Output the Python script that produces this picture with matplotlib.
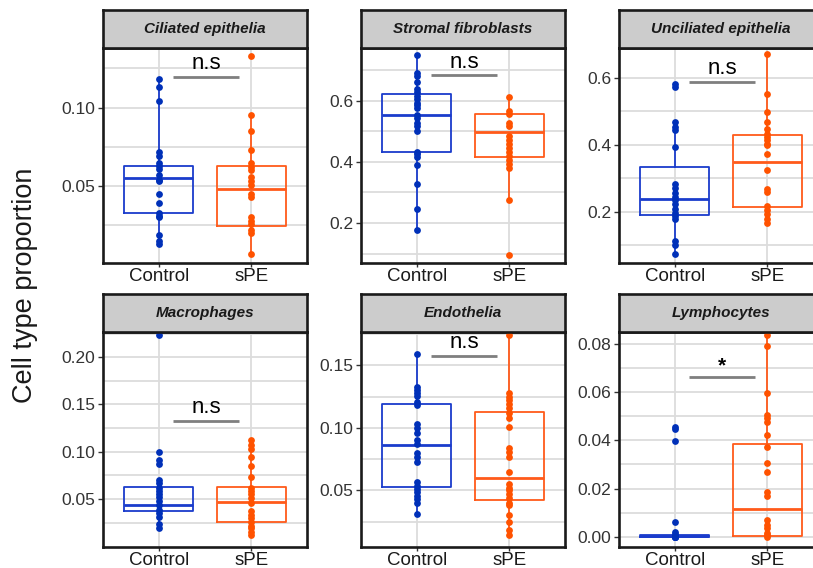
import numpy as np
import matplotlib.pyplot as plt

plt.rcParams['font.family'] = ['Liberation Sans', 'DejaVu Sans']

# ---- data ----
panel_titles = ['Ciliated epithelia', 'Stromal fibroblasts', 'Unciliated epithelia',
                'Macrophages', 'Endothelia', 'Lymphocytes']
groups = ['Control', 'sPE']

ciliated_ctrl = [0.118, 0.113, 0.104, 0.072, 0.069, 0.065, 0.063, 0.061, 0.057, 0.054,
                 0.053, 0.045, 0.039, 0.033, 0.031, 0.030, 0.019, 0.015, 0.013]
ciliated_spe = [0.133, 0.095, 0.085, 0.073, 0.065, 0.062, 0.060, 0.056, 0.053, 0.051,
                0.045, 0.043, 0.030, 0.028, 0.026, 0.022, 0.020, 0.007]

stromal_ctrl = [0.751, 0.691, 0.680, 0.661, 0.639, 0.628, 0.617, 0.606, 0.594, 0.586,
                0.578, 0.553, 0.544, 0.528, 0.517, 0.501, 0.433, 0.427, 0.416, 0.389,
                0.328, 0.247, 0.176]
stromal_spe = [0.614, 0.567, 0.556, 0.528, 0.517, 0.484, 0.473, 0.460, 0.444, 0.431,
               0.420, 0.407, 0.394, 0.380, 0.275, 0.095]

unciliated_ctrl = [0.580, 0.572, 0.466, 0.453, 0.443, 0.392, 0.282, 0.272, 0.255, 0.245,
                   0.234, 0.222, 0.207, 0.197, 0.187, 0.177, 0.112, 0.102, 0.075]
unciliated_spe = [0.670, 0.551, 0.496, 0.466, 0.446, 0.433, 0.423, 0.413, 0.403, 0.398,
                  0.372, 0.325, 0.269, 0.259, 0.217, 0.205, 0.192, 0.179, 0.167]

macro_ctrl = [0.223, 0.100, 0.091, 0.087, 0.070, 0.067, 0.062, 0.059, 0.055, 0.052,
              0.048, 0.044, 0.039, 0.035, 0.031, 0.024, 0.020]
macro_spe = [0.113, 0.107, 0.103, 0.095, 0.085, 0.073, 0.062, 0.059, 0.055, 0.051,
             0.046, 0.037, 0.033, 0.030, 0.026, 0.022, 0.019, 0.015, 0.012]

endo_ctrl = [0.159, 0.1325, 0.130, 0.128, 0.1255, 0.121, 0.118, 0.103, 0.100, 0.096,
             0.0906, 0.0874, 0.080, 0.0766, 0.0726, 0.0565, 0.0538, 0.0511, 0.0487,
             0.0457, 0.043, 0.040, 0.031]
endo_spe = [0.174, 0.128, 0.125, 0.122, 0.119, 0.116, 0.112, 0.1075, 0.101, 0.084,
            0.081, 0.077, 0.0645, 0.055, 0.052, 0.050, 0.047, 0.044, 0.040, 0.038,
            0.030, 0.025, 0.018, 0.014]

lymph_ctrl = [0.0455, 0.0445, 0.0397, 0.006, 0.002, 0.001, 0.0005, 0.0, 0.0, 0.0, 0.0, 0.0]
lymph_spe = [0.0835, 0.0793, 0.0598, 0.0505, 0.0491, 0.0477, 0.0424, 0.0373, 0.0306,
             0.0269, 0.0185, 0.0171, 0.0070, 0.0051, 0.0035, 0.0018, 0.0007, 0.0]

points = [(ciliated_ctrl, ciliated_spe), (stromal_ctrl, stromal_spe),
          (unciliated_ctrl, unciliated_spe), (macro_ctrl, macro_spe),
          (endo_ctrl, endo_spe), (lymph_ctrl, lymph_spe)]

# box stats: (q1, median, q3, whisker low, whisker high) for Control, sPE
box_stats = [
    [(0.033, 0.055, 0.063, 0.013, 0.118), (0.0245, 0.048, 0.063, 0.007, 0.095)],
    [(0.431, 0.553, 0.622, 0.176, 0.751), (0.415, 0.498, 0.556, 0.275, 0.614)],
    [(0.189, 0.239, 0.332, 0.075, 0.466), (0.215, 0.347, 0.428, 0.167, 0.670)],
    [(0.0373, 0.0436, 0.0624, 0.020, 0.070), (0.0259, 0.0472, 0.0624, 0.012, 0.113)],
    [(0.0524, 0.086, 0.119, 0.031, 0.159), (0.0422, 0.0597, 0.113, 0.014, 0.174)],
    [(0.0, 0.0004, 0.0008, 0.0, 0.001), (0.0003, 0.0115, 0.0383, 0.0, 0.0835)],
]

y_limits = [(0.001, 0.138), (0.069, 0.773), (0.047, 0.688),
            (-0.0006, 0.2266), (0.0048, 0.1766), (-0.0042, 0.0849)]
y_ticks = [[0.05, 0.10], [0.2, 0.4, 0.6], [0.2, 0.4, 0.6],
           [0.05, 0.10, 0.15, 0.20], [0.05, 0.10, 0.15], [0.0, 0.02, 0.04, 0.06, 0.08]]
tick_decimals = [2, 1, 1, 2, 2, 2]

sig_labels = ['n.s', 'n.s', 'n.s', 'n.s', 'n.s', '*']
sig_y = [0.1196, 0.683, 0.586, 0.1328, 0.1578, 0.0664]

# ---- styling ----
box_colors = ['#1a3ccc', '#ff5a1a']
dot_colors = ['#0030b8', '#ff5200']
grid_color = '#dcdcdc'

W, H = 813, 568
fig = plt.figure(figsize=(W / 100, H / 100), dpi=100)

col_left = [103, 361, 619]
row_top = [10, 294]
strip_h = 38
panel_w, panel_h = 204, 215

for i in range(6):
    r, c = divmod(i, 3)
    x0 = col_left[c]
    top = row_top[r]
    ax = fig.add_axes([x0 / W, (H - top - strip_h - panel_h) / H, panel_w / W, panel_h / H])
    sax = fig.add_axes([x0 / W, (H - top - strip_h) / H, panel_w / W, strip_h / H])

    # strip
    sax.set_facecolor('#cccccc')
    sax.set_xticks([])
    sax.set_yticks([])
    for s in sax.spines.values():
        s.set_linewidth(1.9)
        s.set_color('#1a1a1a')
    sax.text(0.5, 0.5, panel_titles[i], ha='center', va='center', fontsize=11,
             fontweight='bold', fontstyle='italic', color='#1a1a1a', transform=sax.transAxes)

    # axes
    lo, hi = y_limits[i]
    ax.set_xlim(0.4, 2.6)
    ax.set_ylim(lo, hi)
    ax.set_xticks([1, 2])
    ax.set_xticklabels(groups, fontsize=13.5, color='#1a1a1a')
    major = y_ticks[i]
    step = major[1] - major[0]
    minor = [m - step / 2 for m in major] + [major[-1] + step / 2]
    minor = [m for m in minor if lo < m < hi]
    ax.set_yticks(major)
    ax.set_yticklabels([f'{v:.{tick_decimals[i]}f}' for v in major], fontsize=12.5, color='#333333')
    ax.set_yticks(minor, minor=True)
    ax.tick_params(axis='y', which='major', length=3.5, width=1, color='#333333', pad=2)
    ax.tick_params(axis='x', which='major', length=3, width=1, color='#333333', pad=0.5)
    ax.tick_params(axis='y', which='minor', length=0)
    ax.grid(True, which='major', color=grid_color, lw=1.3, zorder=0)
    ax.grid(True, which='minor', axis='y', color=grid_color, lw=1.3, zorder=0)
    ax.set_axisbelow(True)
    for s in ax.spines.values():
        s.set_linewidth(1.9)
        s.set_color('#1a1a1a')

    # boxes and points
    for g in range(2):
        q1, med, q3, wlo, whi = box_stats[i][g]
        stats = [dict(q1=q1, med=med, q3=q3, whislo=wlo, whishi=whi, fliers=[])]
        col = box_colors[g]
        ax.bxp(stats, positions=[g + 1], widths=0.75, showfliers=False, showcaps=False,
               boxprops=dict(color=col, lw=1.3), whiskerprops=dict(color=col, lw=1.3),
               medianprops=dict(color=col, lw=2.0), manage_ticks=False, zorder=3)
        vals = points[i][g]
        ax.scatter(np.full(len(vals), g + 1), vals, s=24, color=dot_colors[g],
                   linewidths=0, zorder=4, marker='o')

    # significance bar
    ax.plot([1.15, 1.87], [sig_y[i], sig_y[i]], color='#7f7f7f', lw=2, zorder=5,
            solid_capstyle='butt')
    if sig_labels[i] == '*':
        ax.annotate('*', (1.51, sig_y[i]), xytext=(0, 1), textcoords='offset points',
                    ha='center', va='bottom', fontsize=15, fontweight='bold')
    else:
        ax.annotate(sig_labels[i], (1.51, sig_y[i]), xytext=(0, 2), textcoords='offset points',
                    ha='center', va='bottom', fontsize=16)

fig.text(25 / W, 1 - 285 / H, 'Cell type proportion', rotation=90, ha='center', va='center',
         fontsize=19.5, color='#1a1a1a')

fig.savefig('out.png', dpi=100)
